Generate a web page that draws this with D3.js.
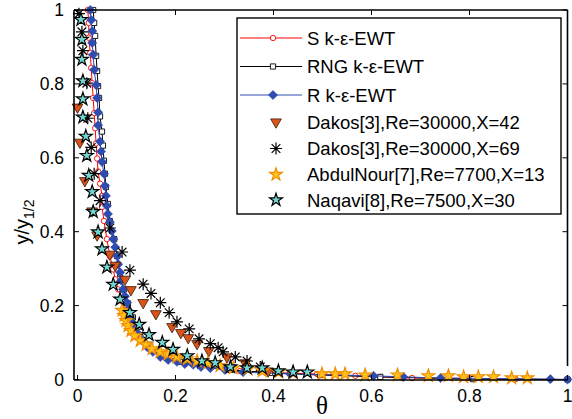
<!DOCTYPE html>
<html><head><meta charset="utf-8">
<script src="https://cdn.jsdelivr.net/npm/d3@7"></script>
<style>
html,body{margin:0;padding:0;background:#fff;}
svg{display:block;}
text{font-family:"Liberation Sans",Arial,sans-serif;}
</style></head>
<body>
<svg id="chart" width="572" height="419"></svg>
<script>
// ---- data (theta, y/y_1/2) ----
const xTicks = [0, 0.2, 0.4, 0.6, 0.8, 1];
const yTicks = [0, 0.2, 0.4, 0.6, 0.8, 1];
const xTickLabels = ["0", "0.2", "0.4", "0.6", "0.8", "1"];
const yTickLabels = ["0", "0.2", "0.4", "0.6", "0.8", "1"];

const seriesNames = ["S k-\u03b5-EWT", "RNG k-\u03b5-EWT", "R k-\u03b5-EWT",
  "Dakos[3],Re=30000,X=42", "Dakos[3],Re=30000,X=69",
  "AbdulNour[7],Re=7700,X=13", "Naqavi[8],Re=7500,X=30"];

const sKe = [[0.021,1.0],[0.023,0.965],[0.023,0.925],[0.026,0.884],[0.028,0.843],[0.030,0.802],
  [0.032,0.762],[0.034,0.721],[0.036,0.680],[0.038,0.639],[0.040,0.598],[0.042,0.563],[0.046,0.530],
  [0.050,0.497],[0.050,0.467],[0.054,0.429],[0.060,0.380],[0.066,0.334],[0.073,0.298],[0.077,0.271],
  [0.083,0.244],[0.091,0.211],[0.101,0.176],[0.113,0.140],[0.128,0.107],[0.148,0.080],[0.179,0.059],
  [0.220,0.042],[0.271,0.031],[0.332,0.023],[0.414,0.018],[0.489,0.015],[0.567,0.010],[0.618,0.007],
  [0.683,0.004],[0.802,0.003],[0.894,0.001],[1.0,0.0]];

const rngKe = [[0.032,1.0],[0.034,0.965],[0.036,0.930],[0.038,0.876],[0.040,0.835],[0.042,0.794],
  [0.044,0.762],[0.046,0.712],[0.050,0.671],[0.052,0.633],[0.054,0.592],[0.056,0.557],[0.058,0.521],
  [0.062,0.475],[0.066,0.429],[0.075,0.380],[0.081,0.334],[0.087,0.285],[0.095,0.244],[0.103,0.206],
  [0.113,0.168],[0.128,0.129],[0.148,0.094],[0.175,0.067],[0.209,0.048],[0.250,0.037],[0.312,0.026],
  [0.393,0.018],[0.495,0.012],[0.618,0.007],[0.808,0.001],[1.0,0.0]];

const rKe = [[0.026,1.0],[0.028,0.973],[0.030,0.943],[0.030,0.911],[0.032,0.879],[0.034,0.838],
  [0.038,0.797],[0.040,0.762],[0.042,0.723],[0.042,0.688],[0.046,0.644],[0.048,0.617],[0.050,0.589],
  [0.054,0.557],[0.056,0.524],[0.058,0.497],[0.060,0.470],[0.062,0.448],[0.066,0.426],[0.070,0.402],
  [0.073,0.380],[0.077,0.358],[0.081,0.334],[0.083,0.312],[0.087,0.290],[0.089,0.268],[0.093,0.244],
  [0.097,0.225],[0.101,0.208],[0.103,0.189],[0.107,0.170],[0.113,0.151],[0.122,0.126],[0.130,0.107],
  [0.142,0.088],[0.154,0.075],[0.169,0.061],[0.185,0.053],[0.203,0.048],[0.219,0.042],[0.236,0.040],
  [0.252,0.034],[0.271,0.031],[0.301,0.026],[0.338,0.020],[0.434,0.015],[0.604,0.010],[0.665,0.007],
  [0.741,0.004],[0.965,0.001],[1.0,0.0]];

const dakos42 = [[0.0,0.737],[0.005,0.642],[0.015,0.538],[0.030,0.456],[0.040,0.391],[0.066,0.339],
  [0.077,0.309],[0.097,0.271],[0.109,0.243],[0.134,0.208],[0.160,0.178],[0.193,0.143],[0.211,0.127],
  [0.226,0.113],[0.244,0.097],[0.268,0.078],[0.305,0.061],[0.342,0.045],[0.389,0.023]];

const dakos69 = [[0.003,0.990],[0.009,0.941],[0.011,0.890],[0.019,0.802],[0.021,0.707],[0.028,0.628],
  [0.034,0.557],[0.046,0.484],[0.066,0.410],[0.091,0.345],[0.107,0.296],[0.134,0.258],[0.150,0.233],
  [0.169,0.208],[0.187,0.181],[0.203,0.156],[0.228,0.137],[0.248,0.110],[0.271,0.097],[0.287,0.086],
  [0.297,0.075],[0.322,0.061],[0.346,0.050],[0.373,0.034]];

const abdulNour = [[0.091,0.187],[0.095,0.173],[0.099,0.159],[0.103,0.145],[0.109,0.132],[0.117,0.118],
  [0.128,0.105],[0.140,0.094],[0.152,0.083],[0.169,0.075],[0.185,0.069],[0.203,0.061],[0.224,0.056],
  [0.244,0.050],[0.266,0.045],[0.291,0.037],[0.318,0.031],[0.348,0.029],[0.377,0.023],[0.410,0.020],
  [0.440,0.018],[0.499,0.015],[0.526,0.015],[0.546,0.015],[0.587,0.012],[0.653,0.012],[0.716,0.010],
  [0.757,0.010],[0.788,0.007],[0.818,0.007],[0.849,0.007],[0.886,0.004],[0.918,0.004]];

const naqavi = [[0.007,0.974],[0.009,0.920],[0.009,0.866],[0.011,0.808],[0.011,0.759],[0.011,0.710],
  [0.017,0.658],[0.019,0.606],[0.023,0.552],[0.030,0.508],[0.032,0.454],[0.042,0.399],[0.050,0.353],
  [0.060,0.304],[0.073,0.257],[0.087,0.217],[0.107,0.181],[0.126,0.149],[0.146,0.121],[0.173,0.100],
  [0.195,0.081],[0.224,0.064],[0.254,0.050],[0.281,0.045],[0.312,0.034],[0.346,0.031],[0.377,0.031],
  [0.410,0.023],[0.440,0.020],[0.469,0.020]];

// ---- layout ----
const svg = d3.select("#chart");
const frame = {left: 74, top: 10, right: 567.5, bottom: 380};
const x = d3.scaleLinear().domain([0, 1]).range([77.5, 567.5]);
const y = d3.scaleLinear().domain([0, 1]).range([379.5, 10]);

const RED = "#ff0000", BLUE = "#2e4bb0", TRI = "#d9541a", GOLD = "#ffc21a", GOLDE = "#f08a00", CYAN = "#74d6d2";

// symbols
const circlePath = r => d3.symbol(d3.symbolCircle, Math.PI * r * r)();
const squarePath = s => `M${-s/2},${-s/2}h${s}v${s}h${-s}Z`;
const diamondPath = r => `M0,${-r}L${r},0L0,${r}L${-r},0Z`;
const triPath = d3.symbol(d3.symbolTriangle, 50)();
const starPath = d3.symbol(d3.symbolStar, 52)();
const astPath = r => { const k = r * 0.72; return `M${-r},0H${r}M0,${-r}V${r}M${-k},${-k}L${k},${k}M${-k},${k}L${k},${-k}`; };

const styles = [
  {line: RED, draw: g => g.append("path").attr("d", circlePath(2.7)).attr("fill", "#fff").attr("stroke", RED).attr("stroke-width", 0.9)},
  {line: "#000", draw: g => g.append("path").attr("d", squarePath(5.2)).attr("fill", "#fff").attr("stroke", "#000").attr("stroke-width", 0.9)},
  {line: BLUE, draw: g => g.append("path").attr("d", diamondPath(4.6)).attr("fill", BLUE).attr("stroke", BLUE).attr("stroke-width", 0.6)},
  {line: null, draw: g => g.append("path").attr("d", triPath).attr("transform", "rotate(180)").attr("fill", TRI).attr("stroke", "#3a1a08").attr("stroke-width", 0.8)},
  {line: null, draw: g => g.append("path").attr("d", astPath(6)).attr("fill", "none").attr("stroke", "#000").attr("stroke-width", 1.2)},
  {line: null, draw: g => g.append("path").attr("d", starPath).attr("fill", GOLD).attr("stroke", GOLDE).attr("stroke-width", 1.1)},
  {line: null, draw: g => g.append("path").attr("d", starPath).attr("fill", CYAN).attr("stroke", "#000").attr("stroke-width", 1.2)}
];
const allSeries = [sKe, rngKe, rKe, dakos42, dakos69, abdulNour, naqavi];

const plotG = svg.append("g");
allSeries.forEach((data, i) => {
  const st = styles[i];
  const g = plotG.append("g");
  if (st.line) {
    g.append("path").datum(data)
      .attr("d", d3.line().x(d => x(d[0])).y(d => y(d[1])))
      .attr("fill", "none").attr("stroke", st.line).attr("stroke-width", 1);
  }
  data.forEach(d => {
    const mg = g.append("g").attr("transform", `translate(${x(d[0])},${y(d[1])})`);
    st.draw(mg);
  });
});

// ---- axes frame ----
const ax = svg.append("g").attr("stroke", "#000").attr("stroke-width", 1.6).attr("fill", "none");
ax.append("line").attr("x1", frame.left).attr("x2", frame.left).attr("y1", frame.top).attr("y2", frame.bottom);
ax.append("line").attr("x1", frame.left).attr("x2", frame.right).attr("y1", frame.bottom).attr("y2", frame.bottom);
ax.append("line").attr("x1", frame.left).attr("x2", frame.right).attr("y1", frame.top).attr("y2", frame.top);
ax.append("line").attr("x1", frame.right).attr("x2", frame.right).attr("y1", frame.top).attr("y2", 366);

const tk = svg.append("g").attr("stroke", "#000").attr("stroke-width", 1);
xTicks.forEach(v => {
  tk.append("line").attr("x1", x(v)).attr("x2", x(v)).attr("y1", frame.bottom).attr("y2", frame.bottom - 5);
  tk.append("line").attr("x1", x(v)).attr("x2", x(v)).attr("y1", frame.top).attr("y2", frame.top + 5);
});
yTicks.forEach(v => {
  tk.append("line").attr("x1", frame.left).attr("x2", frame.left + 5).attr("y1", y(v)).attr("y2", y(v));
  if (y(v) < 366) tk.append("line").attr("x1", frame.right).attr("x2", frame.right - 5).attr("y1", y(v)).attr("y2", y(v));
});

svg.append("g").selectAll("text").data(xTicks).join("text")
  .attr("x", d => x(d)).attr("y", 402).attr("text-anchor", "middle")
  .attr("font-size", 17.5).text((d, i) => xTickLabels[i]);
svg.append("g").selectAll("text").data(yTicks).join("text")
  .attr("x", 64).attr("y", d => y(d)).attr("dy", "0.35em").attr("text-anchor", "end")
  .attr("font-size", 17.5).text((d, i) => yTickLabels[i]);

// axis labels
svg.append("text").attr("x", 322).attr("y", 414).attr("text-anchor", "middle")
  .style("font-family", "'Liberation Serif','Times New Roman',serif")
  .attr("font-size", 25).text("\u03b8");
const yl = svg.append("text").attr("transform", "translate(29,222) rotate(-90)").attr("text-anchor", "middle").attr("font-size", 20);
yl.append("tspan").text("y/y");
yl.append("tspan").attr("font-size", 14).attr("dy", 5).text("1/2");

// ---- legend ----
const lg = svg.append("g");
lg.append("rect").attr("x", 237).attr("y", 18).attr("width", 324).attr("height", 196)
  .attr("fill", "#fff").attr("stroke", "#000").attr("stroke-width", 1.4);
const rowY = [38, 66.5, 95, 122, 148.5, 174.5, 200];
seriesNames.forEach((name, i) => {
  const st = styles[i];
  if (st.line) lg.append("line").attr("x1", 240).attr("x2", 302).attr("y1", rowY[i]).attr("y2", rowY[i])
    .attr("stroke", st.line).attr("stroke-width", 1);
  const mg = lg.append("g").attr("transform", `translate(${st.line ? 273 : 276},${rowY[i]})`);
  st.draw(mg);
  lg.append("text").attr("x", 307).attr("y", rowY[i]).attr("dy", "0.36em").attr("font-size", 18.5).text(name);
});
</script>
</body></html>
